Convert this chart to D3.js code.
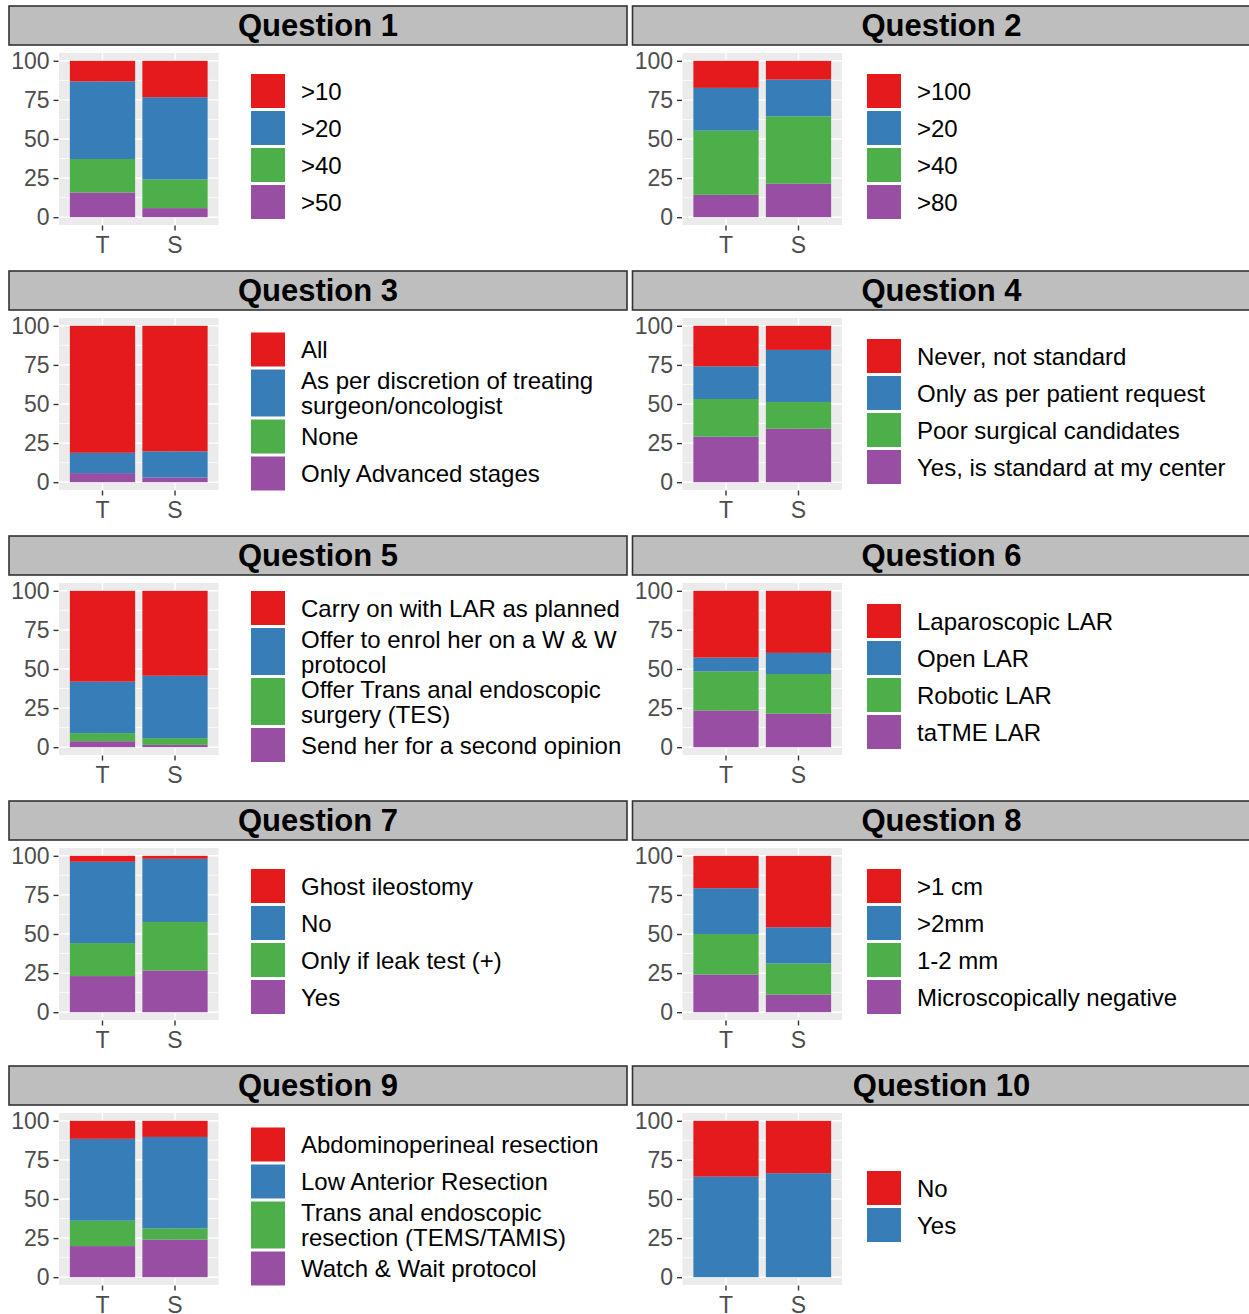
<!DOCTYPE html>
<html>
<head>
<meta charset="utf-8">
<script src="https://cdn.jsdelivr.net/npm/d3@7"></script>
<style>
  body { margin: 0; background: #fff; }
  text { font-family: "Liberation Sans", Arial, Helvetica, sans-serif; }
</style>
</head>
<body>
<script>
// chart data
var titles = ["Question 1", "Question 2", "Question 3", "Question 4", "Question 5",
              "Question 6", "Question 7", "Question 8", "Question 9", "Question 10"];
var groups = ["T", "S"];
var yTicks = [0, 25, 50, 75, 100];

// legend labels, top of the stack first
var answers = [
    [">10", ">20", ">40", ">50"],
    [">100", ">20", ">40", ">80"],
    ["All", "As per discretion of treating\nsurgeon/oncologist", "None", "Only Advanced stages"],
    ["Never, not standard", "Only as per patient request", "Poor surgical candidates", "Yes, is standard at my center"],
    ["Carry on with LAR as planned", "Offer to enrol her on a W & W\nprotocol", "Offer Trans anal endoscopic\nsurgery (TES)", "Send her for a second opinion"],
    ["Laparoscopic LAR", "Open LAR", "Robotic LAR", "taTME LAR"],
    ["Ghost ileostomy", "No", "Only if leak test (+)", "Yes"],
    [">1 cm", ">2mm", "1-2 mm", "Microscopically negative"],
    ["Abdominoperineal resection", "Low Anterior Resection", "Trans anal endoscopic\nresection (TEMS/TAMIS)", "Watch & Wait protocol"],
    ["No", "Yes"]
];

// percentages per answer (same order as answers)
var valuesT = [
    [13.2, 49.6, 21.4, 15.8],
    [17.3, 27.4, 41.0, 14.3],
    [81.2, 13.0, 0, 5.8],
    [25.9, 20.9, 24.1, 29.1],
    [58.1, 32.9, 5.2, 3.8],
    [42.7, 8.8, 25.0, 23.5],
    [3.8, 52.0, 21.1, 23.1],
    [20.7, 29.3, 25.9, 24.1],
    [11.5, 52.4, 16.2, 19.9],
    [35.7, 64.3]
];
var valuesS = [
    [23.3, 52.6, 18.3, 5.8],
    [12.0, 23.5, 43.1, 21.4],
    [80.3, 16.7, 0, 3.0],
    [15.4, 33.3, 17.1, 34.2],
    [54.3, 39.9, 4.3, 1.5],
    [39.7, 13.5, 25.4, 21.4],
    [1.9, 40.4, 31.0, 26.7],
    [45.7, 23.1, 19.9, 11.3],
    [10.3, 58.5, 7.1, 24.1],
    [33.5, 66.5]
];

var palette = ["#E41A1C", "#377EB8", "#4DAF4A", "#984EA3"];

var width = 1249, height = 1314;
var svg = d3.select("body").append("svg")
    .attr("width", width)
    .attr("height", height);

var colX = [0, 623.5];
var legendX = [251, 867];
var rowH = 265;

titles.forEach(function (title, q) {
    var col = q % 2, row = Math.floor(q / 2);
    var ox = colX[col], oy = row * rowH;
    var g = svg.append("g").attr("transform", "translate(" + ox + "," + oy + ")");

    // strip
    g.append("rect")
        .attr("x", 9).attr("y", 6)
        .attr("width", 618).attr("height", 39)
        .attr("fill", "#bebebe")
        .attr("stroke", "#333333")
        .attr("stroke-width", 1.6);
    g.append("text")
        .attr("x", 318).attr("y", 25)
        .attr("text-anchor", "middle")
        .attr("dominant-baseline", "central")
        .attr("font-size", 31)
        .attr("font-weight", "bold")
        .attr("fill", "#000")
        .text(title);

    var x = d3.scaleBand().domain(groups).range([59, 218.5])
        .paddingInner(0.1).paddingOuter(0.15);
    var y = d3.scaleLinear().domain([-5, 105]).range([225, 53]);

    // panel background + grid
    g.append("rect")
        .attr("x", 59).attr("y", 53)
        .attr("width", 159.5).attr("height", 172)
        .attr("fill", "#ebebeb");
    g.selectAll(".minor")
        .data([12.5, 37.5, 62.5, 87.5])
        .enter().append("line")
        .attr("x1", 59).attr("x2", 218.5)
        .attr("y1", function (d) { return y(d); })
        .attr("y2", function (d) { return y(d); })
        .attr("stroke", "#fff").attr("stroke-width", 0.7);
    g.selectAll(".major")
        .data(yTicks)
        .enter().append("line")
        .attr("x1", 59).attr("x2", 218.5)
        .attr("y1", function (d) { return y(d); })
        .attr("y2", function (d) { return y(d); })
        .attr("stroke", "#fff").attr("stroke-width", 1.4);
    g.selectAll(".vgrid")
        .data(groups)
        .enter().append("line")
        .attr("x1", function (d) { return x(d) + x.bandwidth() / 2; })
        .attr("x2", function (d) { return x(d) + x.bandwidth() / 2; })
        .attr("y1", 53).attr("y2", 225)
        .attr("stroke", "#fff").attr("stroke-width", 1.4);

    // stacked bars
    var labels = answers[q];
    var rows = [valuesT[q], valuesS[q]].map(function (vals, i) {
        var r = { group: groups[i] };
        labels.forEach(function (lab, k) { r[lab] = vals[k]; });
        return r;
    });
    var keys = labels.slice().reverse();
    var series = d3.stack().keys(keys)(rows);
    var color = d3.scaleOrdinal().domain(labels).range(palette);

    g.selectAll(".layer")
        .data(series)
        .enter().append("g")
        .attr("fill", function (d) { return color(d.key); })
        .selectAll("rect")
        .data(function (d) { return d; })
        .enter().append("rect")
        .attr("x", function (d) { return x(d.data.group); })
        .attr("width", x.bandwidth())
        .attr("y", function (d) { return y(d[1]); })
        .attr("height", function (d) { return y(d[0]) - y(d[1]); });

    // axes
    var yAxis = d3.axisLeft(y).tickValues(yTicks).tickSize(5).tickPadding(4);
    var ya = g.append("g").attr("transform", "translate(58.5,0)").call(yAxis);
    var xAxis = d3.axisBottom(x).tickSize(5).tickPadding(6);
    var xa = g.append("g").attr("transform", "translate(0,225.5)").call(xAxis);
    [ya, xa].forEach(function (a) {
        a.select(".domain").remove();
        a.selectAll(".tick line").attr("stroke", "#333333").attr("stroke-width", 1.4);
        a.selectAll(".tick text")
            .attr("fill", "#4d4d4d")
            .attr("font-size", 23)
            .style("font-family", "'Liberation Sans', Arial, sans-serif");
    });

    // legend
    var items = labels.map(function (lab) {
        var lines = lab.split("\n");
        return { label: lab, lines: lines, slot: Math.max(37, lines.length * 25) };
    });
    var total = d3.sum(items, function (d) { return d.slot; }) - 3;
    var cy = 6 + 140.5 - total / 2;
    var lg = g.append("g");
    items.forEach(function (it) {
        var h = it.slot - 3;
        lg.append("rect")
            .attr("x", legendX[col] - ox).attr("y", cy)
            .attr("width", 34).attr("height", h)
            .attr("fill", color(it.label));
        var mid = cy + h / 2;
        it.lines.forEach(function (line, j) {
            lg.append("text")
                .attr("x", legendX[col] - ox + 50)
                .attr("y", mid + (j - (it.lines.length - 1) / 2) * 25)
                .attr("dominant-baseline", "central")
                .attr("font-size", 24)
                .attr("fill", "#000")
                .text(line);
        });
        cy += it.slot;
    });
});
</script>
</body>
</html>
